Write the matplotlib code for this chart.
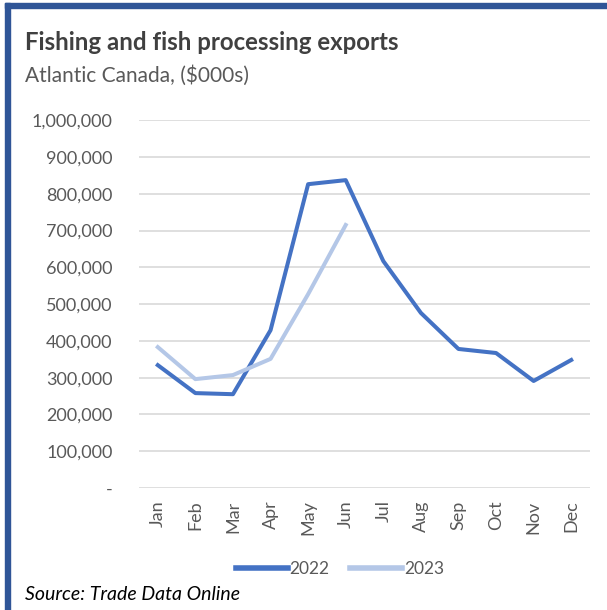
import matplotlib.pyplot as plt
from matplotlib.patches import Rectangle
from matplotlib.ticker import FuncFormatter

months = ['Jan', 'Feb', 'Mar', 'Apr', 'May', 'Jun', 'Jul', 'Aug', 'Sep', 'Oct', 'Nov', 'Dec']
exports_2022 = [334000, 258000, 255000, 429000, 826000, 837000, 617000, 476000, 378000, 367000, 291000, 348000]
exports_2023 = [383000, 296000, 307000, 351000, 527000, 715000]

plt.rcParams['font.family'] = ['Lato', 'DejaVu Sans']

fig = plt.figure(figsize=(6.07, 6.10), dpi=100)
ax = fig.add_axes([0.229, 0.2, 0.743, 0.603])

x22 = range(len(exports_2022))
x23 = range(len(exports_2023))
ax.plot(x22, exports_2022, color='#4472C4', lw=2.9, label='2022', solid_joinstyle='round')
ax.plot(x23, exports_2023, color='#B4C7E7', lw=2.9, label='2023', solid_joinstyle='round')

ax.set_xlim(-0.5, 11.5)
ax.set_ylim(0, 1000000)
ax.set_yticks(range(0, 1000001, 100000))
ax.yaxis.set_major_formatter(FuncFormatter(lambda v, p: '-' if v == 0 else f'{int(v):,}'))
ax.set_xticks(range(12))
ax.set_xticklabels(months, rotation=90)
ax.grid(axis='y', color='#D9D9D9', lw=1.2)
ax.set_axisbelow(True)
for s in ax.spines.values():
    s.set_visible(False)
ax.tick_params(length=0, labelsize=13, colors='#595959')
ax.tick_params(axis='y', pad=19)
ax.tick_params(axis='x', pad=9)

leg = fig.legend(loc='center', bbox_to_anchor=(0.56, 0.067), ncol=2, frameon=False,
                 fontsize=12.5, handlelength=3.0, handletextpad=0.1, columnspacing=1.2)
for line in leg.get_lines():
    line.set_linewidth(4)
for t in leg.get_texts():
    t.set_color('#595959')

fig.text(0.041, 0.918, 'Fishing and fish processing exports', fontsize=17.3,
         fontweight='bold', color='#404040', va='baseline')
fig.text(0.041, 0.866, 'Atlantic Canada, ($000s)', fontsize=15, color='#595959', va='baseline')
fig.text(0.041, 0.026, 'Source: Trade Data Online', fontsize=14, style='italic', color='black',
         va='center')

# frame
fig.patches.append(Rectangle((5/607, 0), 5/607, 1 - 3/610, transform=fig.transFigure,
                             color='#2F5597', zorder=5))
fig.patches.append(Rectangle((5/607, 1 - 8/610), 1, 5/610, transform=fig.transFigure,
                             color='#2F5597', zorder=5))

fig.savefig('out.png', dpi=100)
